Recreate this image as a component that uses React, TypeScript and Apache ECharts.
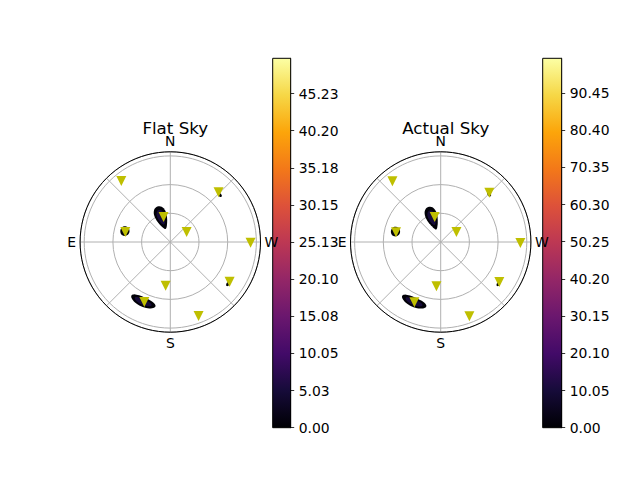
import React, { useEffect, useRef } from "react";
import * as echarts from "echarts";

// Satellite markers: [zenith angle (deg), azimuth (deg, N=0, E=90)]
const flatMarkers: number[][] = [
  [81.7, 38.8], [72.4, 315.8], [27.1, 15.0], [48.2, 77.5], [20.0, 301.5],
  [83.9, 269.5], [74.6, 236.2], [46.0, 173.9], [68.4, 156.6], [82.8, 200.9],
];
const actualMarkers: number[][] = [
  [81.1, 38.5], [72.4, 315.4], [26.9, 13.5], [47.8, 77.8], [19.5, 302.5],
  [83.3, 269.3], [74.2, 235.7], [46.5, 174.5], [68.8, 156.4], [83.2, 201.1],
];

// Sky-map blobs: [zenith, azimuth, half zenith span, half azimuth span, value]
const flatBlobs: number[][] = [
  [27.0, 20.0, 12.5, 12.5, 0.3], [27.5, 20.0, 8.0, 8.0, 5.0],
  [48.8, 76.5, 4.8, 6.0, 0.3], [49.0, 76.5, 2.5, 3.5, 4.0],
  [68.9, 155.5, 5.0, 11.5, 0.3], [68.9, 155.5, 3.0, 8.0, 5.0],
  [71.4, 313.5, 1.6, 2.0, 0.3],
  [74.6, 234.0, 1.6, 2.0, 0.3],
];
const actualBlobs: number[][] = [
  [26.4, 19.7, 12.5, 12.5, 0.6], [26.9, 19.7, 8.0, 8.0, 10.0],
  [48.5, 77.0, 4.8, 6.0, 0.6], [48.7, 77.0, 2.5, 3.5, 8.0],
  [68.9, 155.9, 5.0, 11.5, 0.6], [68.9, 155.9, 3.0, 8.0, 10.0],
  [71.0, 314.5, 1.6, 2.0, 0.6],
  [74.6, 234.0, 1.6, 2.0, 0.6],
];

const flatMax = 50.0;
const actualMax = 99.8;
const flatTicks = [0, 5.0256, 10.0512, 15.0768, 20.1024, 25.128, 30.1536, 35.1792, 40.2048, 45.2304];
const actualTicks = [0, 10.05, 20.1, 30.15, 40.2, 50.25, 60.3, 70.35, 80.4, 90.45];
const titles = ["Flat Sky", "Actual Sky"];
const compass: Record<number, string> = { 0: "N", 90: "E", 180: "S", 270: "W" };

const INFERNO = [
  "#000004", "#160b39", "#420a68", "#6a176e", "#932667", "#bc3754",
  "#dd513a", "#f37819", "#fca50a", "#f6d746", "#fcffa4",
];

function hexToRgb(h: string) {
  return [1, 3, 5].map((i) => parseInt(h.slice(i, i + 2), 16));
}
function inferno(t: number): string {
  const x = Math.max(0, Math.min(1, t)) * (INFERNO.length - 1);
  const i = Math.min(INFERNO.length - 2, Math.floor(x));
  const f = x - i;
  const a = hexToRgb(INFERNO[i]);
  const b = hexToRgb(INFERNO[i + 1]);
  const c = a.map((v, k) => Math.round(v + (b[k] - v) * f));
  return `rgb(${c[0]},${c[1]},${c[2]})`;
}

const FONT = "DejaVu Sans";
const GRID_GRAY = "#b0b0b0";

export default function App() {
  const ref = useRef<HTMLDivElement>(null);
  useEffect(() => {
    if (!ref.current) return;
    const chart = echarts.init(ref.current, undefined, { renderer: "svg" });
    const centers = [170.3, 440.7];
    const cbLeft = [272.7, 542.7];
    const cbWidth = [18, 19];
    const maxes = [flatMax, actualMax];
    const ticks = [flatTicks, actualTicks];
    const markers = [flatMarkers, actualMarkers];
    const blobs = [flatBlobs, actualBlobs];

    const gradStops = INFERNO.map((c, i) => ({ offset: i / (INFERNO.length - 1), color: c }));

    const option: any = {
      animation: false,
      backgroundColor: "#ffffff",
      title: titles.map((t, i) => ({
        text: t,
        left: centers[i],
        top: 114,
        textAlign: "center",
        textStyle: { fontFamily: FONT, fontSize: 16.7, fontWeight: "normal", color: "#000" },
      })),
      polar: centers.map((c) => ({ center: [c, 242], radius: 90.2 })),
      angleAxis: [0, 1].map((i) => ({
        polarIndex: i,
        type: "value",
        min: 0,
        max: 360,
        interval: 45,
        startAngle: 90,
        clockwise: false,
        z: 3,
        axisLine: { show: true, lineStyle: { color: "#000", width: 1 } },
        axisTick: { show: false },
        splitLine: { show: true, lineStyle: { color: GRID_GRAY, width: 1 } },
        axisLabel: {
          show: true,
          margin: 4,
          fontFamily: FONT,
          fontSize: 13.9,
          color: "#000",
          formatter: (v: number) => (v < 360 && compass[v]) || "",
        },
      })),
      radiusAxis: [0, 1].map((i) => ({
        polarIndex: i,
        type: "value",
        min: 0,
        max: 94.3,
        interval: 30,
        z: 1,
        axisLine: { show: false },
        axisTick: { show: false },
        axisLabel: { show: false },
        splitLine: { show: true, lineStyle: { color: GRID_GRAY, width: 1 } },
      })),
      grid: [0, 1].map((i) => ({
        left: cbLeft[i],
        top: 58.3,
        width: cbWidth[i],
        height: 369.4,
        show: true,
        borderColor: "#000",
        borderWidth: 1,
        backgroundColor: "transparent",
        z: 3,
      })),
      xAxis: [0, 1].map((i) => ({
        gridIndex: i,
        type: "category",
        data: ["c"],
        show: false,
        boundaryGap: true,
      })),
      yAxis: [0, 1].map((i) => ({
        gridIndex: i,
        type: "value",
        min: 0,
        max: maxes[i],
        position: "right",
        splitLine: { show: false },
        axisLine: { show: true, lineStyle: { color: "#000", width: 1 } },
        axisTick: {
          show: true,
          length: 3.5,
          lineStyle: { color: "#000", width: 0.8 },
          customValues: ticks[i],
        },
        axisLabel: {
          show: true,
          margin: 8,
          fontFamily: FONT,
          fontSize: 13.9,
          color: "#000",
          customValues: ticks[i],
          formatter: (v: number) => v.toFixed(2),
        },
      })),
      series: [
        ...[0, 1].map((i) => ({
          type: "bar",
          xAxisIndex: i,
          yAxisIndex: i,
          barWidth: "100%",
          data: [maxes[i]],
          silent: true,
          itemStyle: {
            color: new echarts.graphic.LinearGradient(0, 1, 0, 0, gradStops),
          },
        })),
        ...[0, 1].map((i) => ({
          type: "custom",
          coordinateSystem: "polar",
          polarIndex: i,
          encode: { radius: 0, angle: 1 },
          data: blobs[i],
          z: 2,
          silent: true,
          renderItem: (_params: any, api: any) => {
            const zen = api.value(0);
            const az = api.value(1);
            const hz = api.value(2);
            const ha = api.value(3);
            const v = api.value(4);
            const pts: number[][] = [];
            const n = 48;
            for (let k = 0; k < n; k++) {
              const t = (k / n) * Math.PI * 2;
              pts.push(api.coord([zen + hz * Math.sin(t), az + ha * Math.cos(t)]));
            }
            return {
              type: "polygon",
              shape: { points: pts },
              style: { fill: inferno(v / maxes[i]) },
            };
          },
        })),
        ...[0, 1].map((i) => ({
          type: "scatter",
          coordinateSystem: "polar",
          polarIndex: i,
          data: markers[i],
          symbol: "triangle",
          symbolRotate: 180,
          symbolSize: 10,
          z: 5,
          silent: true,
          itemStyle: { color: "#bfbf00", opacity: 1 },
        })),
      ],
    };
    chart.setOption(option);
    return () => chart.dispose();
  }, []);
  return (
    <div
      ref={ref}
      style={{ position: "absolute", left: 0, top: 0, width: 640, height: 480 }}
    />
  );
}
